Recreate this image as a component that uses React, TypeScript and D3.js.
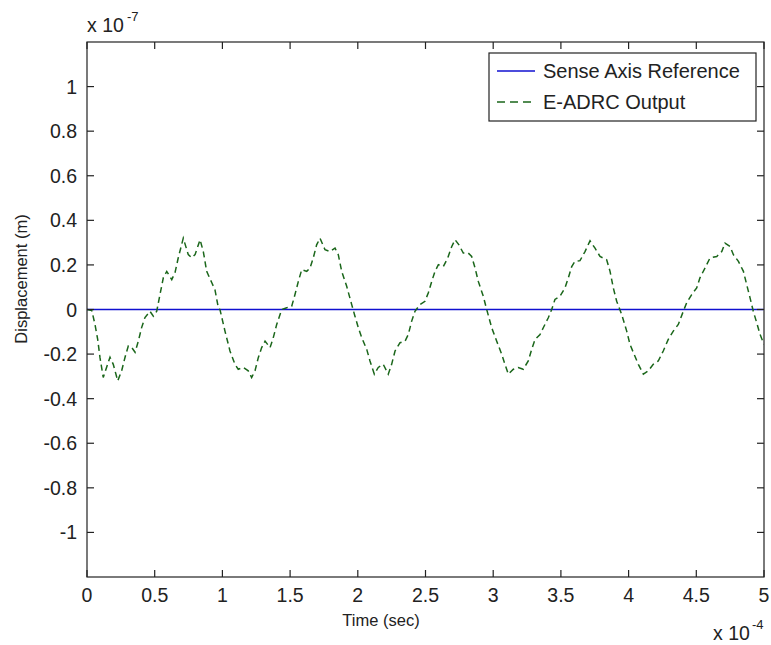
import React from "react";
import * as d3 from "d3";

// Time in units of 1e-4 s, displacement in units of 1e-7 m
const timeValues = [
  0, 0.035, 0.059, 0.079, 0.096, 0.12, 0.145, 0.17, 0.194, 0.227, 0.256, 0.281, 0.305, 0.33, 0.355, 0.379, 0.404, 0.428, 0.465, 0.49, 0.515, 0.539, 0.564, 0.589, 0.626, 0.65, 0.674, 0.711, 0.748, 0.773, 0.798, 0.835, 0.859, 0.884, 0.921, 0.945, 0.97, 0.982,
  1.019, 1.056, 1.093, 1.117, 1.154, 1.191, 1.216, 1.241, 1.265, 1.29, 1.315, 1.352, 1.376, 1.401, 1.438, 1.475, 1.512, 1.536, 1.561, 1.586, 1.623, 1.647, 1.671, 1.696, 1.721, 1.758, 1.795, 1.832, 1.856, 1.881, 1.918, 1.955, 1.979,
  2.004, 2.029, 2.066, 2.09, 2.122, 2.151, 2.188, 2.225, 2.25, 2.275, 2.312, 2.349, 2.373, 2.398, 2.422, 2.459, 2.496, 2.521, 2.546, 2.57, 2.595, 2.632, 2.664, 2.694, 2.718, 2.747, 2.779, 2.816, 2.841, 2.866, 2.89, 2.927, 2.952, 2.989,
  3.026, 3.063, 3.087, 3.112, 3.149, 3.185, 3.222, 3.259, 3.284, 3.309, 3.346, 3.37, 3.407, 3.432, 3.456, 3.493, 3.53, 3.555, 3.58, 3.604, 3.641, 3.678, 3.715, 3.752, 3.789, 3.838, 3.863, 3.887, 3.912, 3.949, 3.986,
  4.01, 4.035, 4.072, 4.109, 4.146, 4.182, 4.219, 4.256, 4.293, 4.33, 4.367, 4.404, 4.429, 4.466, 4.503, 4.527, 4.564, 4.601, 4.651, 4.688, 4.712, 4.749, 4.774, 4.811, 4.848, 4.872, 4.897, 4.921, 4.946, 4.971, 5.0,
];
const outputValues = [
  0, -0.004, -0.067, -0.134, -0.216, -0.305, -0.259, -0.214, -0.246, -0.32, -0.275, -0.214, -0.164, -0.17, -0.192, -0.142, -0.08, -0.036, -0.008, -0.03, -0.008, 0.067, 0.143, 0.171, 0.134, 0.165, 0.232, 0.32, 0.246, 0.232, 0.246, 0.313, 0.26, 0.171, 0.121, 0.089, 0.008, 0,
  -0.097, -0.186, -0.246, -0.268, -0.26, -0.275, -0.305, -0.275, -0.216, -0.171, -0.142, -0.171, -0.126, -0.067, 0, 0.008, 0.015, 0.067, 0.126, 0.179, 0.171, 0.186, 0.231, 0.29, 0.32, 0.268, 0.26, 0.275, 0.246, 0.171, 0.104, 0.022, -0.03,
  -0.082, -0.126, -0.179, -0.231, -0.29, -0.26, -0.246, -0.29, -0.246, -0.186, -0.149, -0.142, -0.112, -0.052, -0.008, 0.022, 0.037, 0.075, 0.126, 0.171, 0.201, 0.193, 0.231, 0.283, 0.313, 0.29, 0.253, 0.253, 0.238, 0.186, 0.126, 0.059, 0, -0.082,
  -0.142, -0.201, -0.246, -0.29, -0.268, -0.26, -0.268, -0.231, -0.179, -0.134, -0.112, -0.082, -0.037, 0, 0.045, 0.059, 0.097, 0.142, 0.193, 0.216, 0.219, 0.26, 0.308, 0.275, 0.238, 0.223, 0.171, 0.097, 0.037, -0.022, -0.097,
  -0.156, -0.193, -0.246, -0.29, -0.275, -0.246, -0.231, -0.186, -0.134, -0.097, -0.067, -0.008, 0.03, 0.067, 0.097, 0.142, 0.186, 0.231, 0.238, 0.26, 0.298, 0.283, 0.246, 0.216, 0.171, 0.112, 0.052, -0.008, -0.059, -0.112, -0.156,
];
const referenceTime = [0, 5];
const referenceValues = [0, 0];

const xTicks = [0, 0.5, 1, 1.5, 2, 2.5, 3, 3.5, 4, 4.5, 5];
const xTickLabels = ["0", "0.5", "1", "1.5", "2", "2.5", "3", "3.5", "4", "4.5", "5"];
const yTicks = [-1, -0.8, -0.6, -0.4, -0.2, 0, 0.2, 0.4, 0.6, 0.8, 1];
const yTickLabels = ["-1", "-0.8", "-0.6", "-0.4", "-0.2", "0", "0.2", "0.4", "0.6", "0.8", "1"];
const seriesNames = ["Sense Axis Reference", "E-ADRC Output"];

const W = 771;
const H = 645;
const L = 87, R = 764, T = 42, B = 577;
const FONT = "'Liberation Sans', Arial, sans-serif";
const FS = 19.5;
const LFS = 16.5;
const GFS = 20;

export default function App() {
  const x = d3.scaleLinear().domain([0, 5]).range([L, R]);
  const y = d3.scaleLinear().domain([-1.2, 1.2]).range([B, T]);
  const line = d3
    .line<[number, number]>()
    .x((d) => x(d[0]))
    .y((d) => y(d[1]));
  const outPts: [number, number][] = timeValues.map((t, i) => [t, outputValues[i]]);
  const refPts: [number, number][] = referenceTime.map((t, i) => [t, referenceValues[i]]);
  const tl = 7;
  const lg = { x0: 489, y0: 53, x1: 756, y1: 121 };

  return (
    <svg
      width={W}
      height={H}
      style={{ position: "absolute", left: 0, top: 0, background: "#fff" }}
      fontFamily={FONT}
    >
      <rect x={0} y={0} width={W} height={H} fill="#fff" />
      <defs>
        <clipPath id="plotclip">
          <rect x={L} y={T} width={R - L} height={B - T} />
        </clipPath>
      </defs>
      {/* data */}
      <g clipPath="url(#plotclip)">
        <path d={line(refPts) || ""} fill="none" stroke="#1010d0" strokeWidth={1.6} />
        <path
          d={line(outPts) || ""}
          fill="none"
          stroke="#1a661a"
          strokeWidth={1.5}
          strokeDasharray="6 4"
        />
      </g>
      {/* box */}
      <rect x={L} y={T} width={R - L} height={B - T} fill="none" stroke="#222" strokeWidth={1.2} />
      {/* x ticks */}
      {xTicks.map((v, i) => (
        <g key={"xt" + i}>
          <line x1={x(v)} x2={x(v)} y1={B} y2={B - tl} stroke="#222" strokeWidth={1.2} />
          <line x1={x(v)} x2={x(v)} y1={T} y2={T + tl} stroke="#222" strokeWidth={1.2} />
          <text x={x(v)} y={602} textAnchor="middle" fontSize={FS} fill="#222">
            {xTickLabels[i]}
          </text>
        </g>
      ))}
      {/* y ticks */}
      {yTicks.map((v, i) => (
        <g key={"yt" + i}>
          <line x1={L} x2={L + tl} y1={y(v)} y2={y(v)} stroke="#222" strokeWidth={1.2} />
          <line x1={R} x2={R - tl} y1={y(v)} y2={y(v)} stroke="#222" strokeWidth={1.2} />
          <text x={77} y={y(v) + 7} textAnchor="end" fontSize={FS} fill="#222">
            {yTickLabels[i]}
          </text>
        </g>
      ))}
      {/* multipliers */}
      <text x={87} y={32} fontSize={FS} fill="#222">
        x 10
      </text>
      <text x={127} y={21} fontSize={13} fill="#222">
        -7
      </text>
      <text x={713} y={640} fontSize={FS} fill="#222">
        x 10
      </text>
      <text x={752} y={629} fontSize={13} fill="#222">
        -4
      </text>
      {/* axis labels */}
      <text x={381} y={626} textAnchor="middle" fontSize={LFS} fill="#222">
        Time (sec)
      </text>
      <text
        transform={`translate(27,279) rotate(-90)`}
        textAnchor="middle"
        fontSize={LFS}
        fill="#222"
      >
        Displacement (m)
      </text>
      {/* legend */}
      <rect
        x={lg.x0}
        y={lg.y0}
        width={lg.x1 - lg.x0}
        height={lg.y1 - lg.y0}
        fill="#fff"
        stroke="#222"
        strokeWidth={1.2}
      />
      <line x1={497} x2={535} y1={71} y2={71} stroke="#1010d0" strokeWidth={1.6} />
      <text x={543} y={78} fontSize={GFS} fill="#222">
        {seriesNames[0]}
      </text>
      <line x1={497} x2={535} y1={102} y2={102} stroke="#1a661a" strokeWidth={1.5} strokeDasharray="8 5" />
      <text x={543} y={109} fontSize={GFS} fill="#222">
        {seriesNames[1]}
      </text>
    </svg>
  );
}
